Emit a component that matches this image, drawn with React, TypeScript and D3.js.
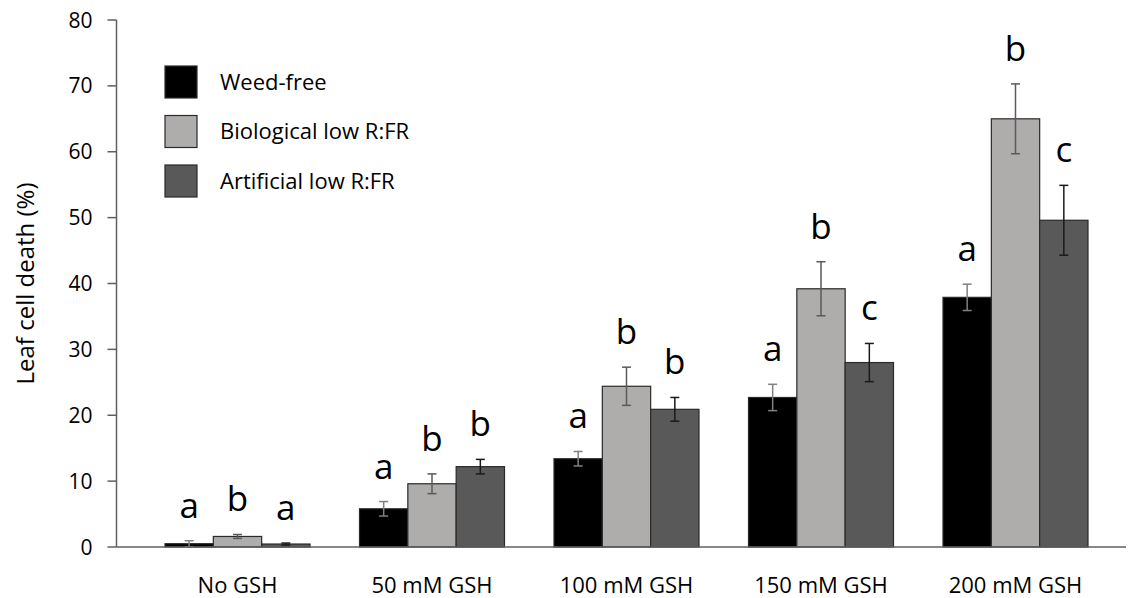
import React from "react";
import * as d3 from "d3";

const categories = ["No GSH", "50 mM GSH", "100 mM GSH", "150 mM GSH", "200 mM GSH"];
const seriesNames = ["Weed-free", "Biological low R:FR", "Artificial low R:FR"];
const weedFree = [0.5, 5.8, 13.4, 22.7, 37.9];
const weedFreeErr = [0.45, 1.1, 1.1, 2.0, 2.0];
const biological = [1.6, 9.6, 24.4, 39.2, 65.0];
const biologicalErr = [0.3, 1.5, 2.9, 4.1, 5.3];
const artificial = [0.45, 12.2, 20.9, 28.0, 49.6];
const artificialErr = [0.15, 1.1, 1.8, 2.9, 5.3];
const weedFreeLetters = ["a", "a", "a", "a", "a"];
const biologicalLetters = ["b", "b", "b", "b", "b"];
const artificialLetters = ["a", "b", "b", "c", "c"];
const yTicks = [0, 10, 20, 30, 40, 50, 60, 70, 80];

const colors = ["#000000", "#afacac", "#595959"];
const errColors = ["#808080", "#5a5a5a", "#1a1a1a"];

const W = 1132;
const H = 598;
const font = "'Open Sans', sans-serif";

export default function App() {
  const x = d3.scaleBand<string>().domain(categories).range([140.25, 1112.75]).padding(0);
  const y = d3.scaleLinear().domain([0, 80]).range([547, 20]);
  const groupW = 145;
  const inner = d3
    .scaleBand<number>()
    .domain([0, 1, 2])
    .range([0, groupW])
    .padding(0);
  const series = [
    { vals: weedFree, errs: weedFreeErr, letters: weedFreeLetters },
    { vals: biological, errs: biologicalErr, letters: biologicalLetters },
    { vals: artificial, errs: artificialErr, letters: artificialLetters },
  ];
  const axisColor = "#5f5f5f";
  const x0 = 116.5;
  const xEnd = 1126;

  return (
    <svg
      width={W}
      height={H}
      style={{ position: "absolute", left: 0, top: 0, background: "#fff" }}
    >
      <rect x={0} y={0} width={W} height={H} fill="#fff" />
      {categories.map((c, i) => {
        const gx = (x(c) as number) + (x.bandwidth() - groupW) / 2;
        return (
          <g key={c}>
            {series.map((s, k) => {
              const bx = gx + (inner(k) as number);
              const bw = inner.bandwidth();
              const v = s.vals[i];
              const e = s.errs[i];
              const cx = bx + bw / 2;
              return (
                <g key={k}>
                  <rect
                    x={bx}
                    y={y(v)}
                    width={bw}
                    height={y(0) - y(v)}
                    fill={colors[k]}
                    stroke="#2a2a2a"
                    strokeWidth={1.2}
                  />
                  <line x1={cx} x2={cx} y1={y(v - e)} y2={y(v + e)} stroke={errColors[k]} strokeWidth={1.5} />
                  <line x1={cx - 4.5} x2={cx + 4.5} y1={y(v + e)} y2={y(v + e)} stroke={errColors[k]} strokeWidth={1.5} />
                  <line x1={cx - 4.5} x2={cx + 4.5} y1={y(v - e)} y2={y(v - e)} stroke={errColors[k]} strokeWidth={1.5} />
                  <text
                    x={cx}
                    y={y(v + e) - 23}
                    textAnchor="middle"
                    fontFamily={font}
                    fontSize={35}
                    fill="#000"
                  >
                    {s.letters[i]}
                  </text>
                </g>
              );
            })}
            <text
              x={(x(c) as number) + x.bandwidth() / 2}
              y={593}
              textAnchor="middle"
              fontFamily={font}
              fontSize={22}
              fill="#000"
            >
              {c}
            </text>
          </g>
        );
      })}
      <line x1={x0} x2={x0} y1={y(80)} y2={y(0)} stroke={axisColor} strokeWidth={1.5} />
      <line x1={x0} x2={xEnd} y1={y(0)} y2={y(0)} stroke={axisColor} strokeWidth={1.5} />
      {yTicks.map((t) => (
        <g key={t}>
          <line x1={x0 - 9} x2={x0} y1={y(t)} y2={y(t)} stroke={axisColor} strokeWidth={1.5} />
          <text
            x={x0 - 24}
            y={y(t)}
            dy="0.36em"
            textAnchor="end"
            fontFamily={font}
            fontSize={21}
            fill="#000"
          >
            {t}
          </text>
        </g>
      ))}
      <text
        transform={`translate(34, ${y(40)}) rotate(-90)`}
        textAnchor="middle"
        fontFamily={font}
        fontSize={24}
        fill="#000"
      >
        Leaf cell death (%)
      </text>
      {seriesNames.map((n, k) => (
        <g key={n} transform={`translate(165, ${66 + k * 49.5})`}>
          <rect x={0} y={0} width={32} height={32} fill={colors[k]} stroke="#2a2a2a" strokeWidth={1.2} />
          <text x={55} y={16} dy="0.36em" fontFamily={font} fontSize={22} fill="#000">
            {n}
          </text>
        </g>
      ))}
    </svg>
  );
}
